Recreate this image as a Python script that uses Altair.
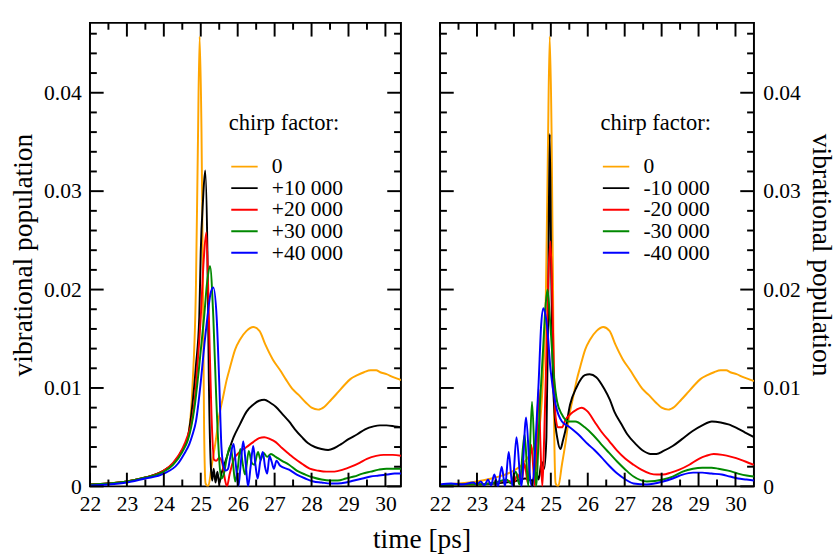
import altair as alt
import pandas as pd

# ---------------- data ----------------
LABELS_POS = ["0", "+10 000", "+20 000", "+30 000", "+40 000"]
LABELS_NEG = ["0", "-10 000", "-20 000", "-30 000", "-40 000"]
COLORS = ["#FFA500", "#000000", "#FF0000", "#008800", "#0000FF"]

X_MAJOR = [22, 23, 24, 25, 26, 27, 28, 29, 30]
X_MINOR = [22.5, 23.5, 24.5, 25.5, 26.5, 27.5, 28.5, 29.5]
Y_MAJOR = [0.0, 0.01, 0.02, 0.03, 0.04]
Y_MINOR = [0.002, 0.004, 0.006, 0.008, 0.012, 0.014, 0.016, 0.018, 0.022, 0.024,
           0.026, 0.028, 0.032, 0.034, 0.036, 0.038, 0.042, 0.044, 0.046]

ORANGE = [(22.0, 0.0002), (22.5, 0.0003), (23.0, 0.0005), (23.5, 0.0009), (24.0, 0.0016),
          (24.25, 0.0023), (24.5, 0.0037), (24.65, 0.0050), (24.78, 0.0105), (24.87, 0.0205),
          (24.92, 0.034), (24.97, 0.0457), (25.02, 0.036), (25.06, 0.02), (25.09, 0.006),
          (25.13, 0.0003), (25.2, 0.0), (25.3, 0.0022), (25.4, 0.0045), (25.5, 0.0072),
          (25.6, 0.009), (25.7, 0.0108), (25.8, 0.0122), (25.93, 0.0139), (26.06, 0.0149),
          (26.24, 0.0158), (26.42, 0.0162), (26.59, 0.0158), (26.75, 0.0144), (26.95, 0.0129),
          (27.15, 0.0118), (27.3, 0.0109), (27.48, 0.0099), (27.65, 0.0093), (27.85, 0.0085),
          (28.0, 0.0080), (28.18, 0.0078), (28.35, 0.0081), (28.53, 0.0088), (28.7, 0.0095),
          (28.89, 0.0103), (29.05, 0.0109), (29.24, 0.0113), (29.42, 0.0116), (29.6, 0.0118),
          (29.75, 0.0118), (29.86, 0.0116), (30.03, 0.0114), (30.21, 0.0111), (30.43, 0.0108),
          (30.5, 0.0107)]

POS_10 = [(22.0, 0.0002), (22.5, 0.0003), (23.0, 0.0005), (23.5, 0.0009), (24.0, 0.0016),
          (24.25, 0.0023), (24.5, 0.0037), (24.65, 0.005), (24.78, 0.0085), (24.87, 0.0123),
          (24.96, 0.0172), (25.0, 0.0239), (25.06, 0.029), (25.12, 0.0321), (25.18, 0.0239),
          (25.22, 0.0106), (25.27, 0.0023), (25.31, 0.0006), (25.35, 0.0018), (25.4, 0.0004),
          (25.45, 0.0015), (25.5, 0.0003), (25.56, 0.0013), (25.62, 0.002), (25.75, 0.0035),
          (25.89, 0.005), (26.06, 0.0063), (26.24, 0.0076), (26.42, 0.0083), (26.58, 0.0087),
          (26.72, 0.0088), (26.88, 0.0085), (27.03, 0.0081), (27.2, 0.0074), (27.39, 0.0066),
          (27.55, 0.0058), (27.74, 0.005), (27.9, 0.0044), (28.09, 0.004), (28.27, 0.0038),
          (28.45, 0.0037), (28.62, 0.0039), (28.8, 0.0043), (29.0, 0.0048), (29.24, 0.0053),
          (29.45, 0.0058), (29.68, 0.0061), (29.85, 0.0062), (30.03, 0.0062), (30.25, 0.0061),
          (30.43, 0.006)]

POS_20 = [(22.0, 0.0002), (22.5, 0.0003), (23.0, 0.0005), (23.5, 0.0009), (24.0, 0.0016),
          (24.25, 0.0024), (24.5, 0.0038), (24.65, 0.0052), (24.74, 0.0063), (24.83, 0.0086),
          (24.91, 0.0123), (25.0, 0.0172), (25.08, 0.023), (25.15, 0.0258), (25.22, 0.0172),
          (25.29, 0.0073), (25.36, 0.0027), (25.42, 0.0026), (25.5, 0.0029), (25.58, 0.0024),
          (25.65, 0.0008), (25.71, 0.0), (25.78, 0.0012), (25.89, 0.0027), (26.06, 0.0035),
          (26.24, 0.004), (26.42, 0.0045), (26.58, 0.0049), (26.72, 0.005), (26.88, 0.0048),
          (27.03, 0.0045), (27.2, 0.0039), (27.39, 0.0033), (27.55, 0.0028), (27.74, 0.0023),
          (27.95, 0.0018), (28.18, 0.0016), (28.4, 0.0015), (28.62, 0.0015), (28.85, 0.0017),
          (29.07, 0.002), (29.3, 0.0024), (29.5, 0.0028), (29.75, 0.0031), (29.95, 0.0032),
          (30.2, 0.0032), (30.43, 0.0031)]

POS_30 = [(22.0, 0.0002), (22.5, 0.0003), (23.0, 0.0005), (23.5, 0.0009), (24.0, 0.0015),
          (24.25, 0.0022), (24.5, 0.0035), (24.65, 0.0047), (24.74, 0.006), (24.83, 0.008),
          (24.96, 0.0123), (25.09, 0.0172), (25.18, 0.021), (25.25, 0.0224), (25.34, 0.0172),
          (25.42, 0.0089), (25.49, 0.0033), (25.55, 0.0008), (25.62, 0.0012), (25.7, 0.0028),
          (25.8, 0.0041), (25.87, 0.0025), (25.93, 0.0005), (26.0, 0.0018), (26.07, 0.0038),
          (26.14, 0.0022), (26.2, 0.0012), (26.3, 0.0036), (26.38, 0.0024), (26.45, 0.0022),
          (26.55, 0.0035), (26.62, 0.0027), (26.7, 0.0034), (26.8, 0.003), (26.9, 0.0033),
          (27.03, 0.003), (27.2, 0.0026), (27.39, 0.0022), (27.6, 0.0016), (27.83, 0.0012),
          (28.05, 0.0009), (28.27, 0.0007), (28.5, 0.0006), (28.71, 0.0006), (28.93, 0.0008),
          (29.15, 0.001), (29.38, 0.0013), (29.6, 0.0015), (29.82, 0.0017), (30.03, 0.0018),
          (30.25, 0.0018), (30.43, 0.0018)]

POS_40 = [(22.0, 0.0001), (22.5, 0.0002), (23.0, 0.0004), (23.5, 0.0008), (24.0, 0.0013),
          (24.38, 0.0023), (24.55, 0.0033), (24.69, 0.0043), (24.78, 0.0053), (24.87, 0.0066),
          (25.0, 0.0106), (25.1, 0.0145), (25.18, 0.0172), (25.26, 0.0195), (25.34, 0.0202),
          (25.43, 0.0172), (25.5, 0.0106), (25.56, 0.004), (25.62, 0.002), (25.68, 0.0016),
          (25.74, 0.0018), (25.8, 0.003), (25.89, 0.0043), (25.95, 0.0022), (26.02, 0.0),
          (26.08, 0.0022), (26.15, 0.0046), (26.22, 0.0022), (26.28, 0.0), (26.35, 0.002),
          (26.42, 0.0041), (26.48, 0.0022), (26.54, 0.0008), (26.61, 0.0025), (26.68, 0.0035),
          (26.74, 0.002), (26.8, 0.0013), (26.86, 0.0031), (26.92, 0.0025), (26.98, 0.0018),
          (27.05, 0.0026), (27.15, 0.0021), (27.39, 0.0017), (27.6, 0.0012), (27.83, 0.0008),
          (28.05, 0.0005), (28.27, 0.0004), (28.5, 0.0003), (28.71, 0.0003), (28.93, 0.0004),
          (29.15, 0.0006), (29.38, 0.0008), (29.6, 0.001), (29.82, 0.0011), (30.03, 0.0012),
          (30.25, 0.0013), (30.43, 0.0013)]

NEG_10 = [(22.0, 0.0001), (22.5, 0.0002), (23.0, 0.0002), (23.5, 0.0003), (24.0, 0.0005),
          (24.3, 0.0008), (24.5, 0.0006), (24.6, 0.0014), (24.67, 0.0007), (24.75, 0.0025),
          (24.82, 0.0018), (24.88, 0.005), (24.92, 0.015), (24.97, 0.0358), (25.01, 0.022),
          (25.05, 0.012), (25.1, 0.0075), (25.18, 0.0048), (25.26, 0.0038), (25.33, 0.0047),
          (25.39, 0.0056), (25.52, 0.0083), (25.7, 0.0101), (25.92, 0.0113), (26.05, 0.0114),
          (26.23, 0.0111), (26.45, 0.0099), (26.6, 0.0088), (26.72, 0.0076), (26.9, 0.0064),
          (27.07, 0.0053), (27.3, 0.0043), (27.51, 0.0036), (27.7, 0.0033), (27.86, 0.0033),
          (28.05, 0.0036), (28.3, 0.0041), (28.55, 0.0048), (28.83, 0.0056), (29.1, 0.0062),
          (29.36, 0.0066), (29.6, 0.0065), (29.81, 0.0063), (30.05, 0.0059), (30.25, 0.0055),
          (30.5, 0.005)]

NEG_20 = [(22.0, 0.0001), (22.5, 0.0002), (23.0, 0.0002), (23.5, 0.0004), (23.8, 0.0006),
          (24.0, 0.0004), (24.1, 0.0012), (24.2, 0.0004), (24.29, 0.0023), (24.38, 0.0003),
          (24.47, 0.0042), (24.57, 0.0), (24.67, 0.0099), (24.72, 0.004), (24.77, 0.0),
          (24.82, 0.005), (24.87, 0.012), (24.93, 0.021), (24.99, 0.0249), (25.04, 0.019),
          (25.08, 0.0123), (25.13, 0.007), (25.2, 0.006), (25.3, 0.006), (25.4, 0.0068),
          (25.52, 0.0073), (25.7, 0.0078), (25.83, 0.008), (26.0, 0.0076), (26.18, 0.0066),
          (26.36, 0.0056), (26.58, 0.0046), (26.8, 0.0036), (27.02, 0.0028), (27.24, 0.0022),
          (27.45, 0.0017), (27.69, 0.0013), (27.87, 0.0012), (28.04, 0.0012), (28.25, 0.0014),
          (28.48, 0.0017), (28.75, 0.0022), (29.01, 0.0028), (29.2, 0.0031), (29.41, 0.0033),
          (29.65, 0.0032), (29.89, 0.003), (30.15, 0.0027), (30.42, 0.0023), (30.5, 0.0022)]

NEG_30 = [(22.0, 0.0001), (22.5, 0.0002), (23.0, 0.0002), (23.5, 0.0004), (23.8, 0.0007),
          (23.92, 0.0003), (24.05, 0.0015), (24.15, 0.0002), (24.29, 0.0053), (24.39, 0.0),
          (24.49, 0.0086), (24.6, 0.0), (24.7, 0.008), (24.79, 0.0139), (24.86, 0.0185),
          (24.91, 0.02), (24.99, 0.0162), (25.08, 0.0113), (25.17, 0.0086), (25.3, 0.0073),
          (25.48, 0.0066), (25.66, 0.0066), (25.92, 0.006), (26.15, 0.0052), (26.36, 0.0043),
          (26.58, 0.0034), (26.8, 0.0025), (27.02, 0.0017), (27.24, 0.001), (27.6, 0.0005),
          (28.04, 0.0007), (28.3, 0.001), (28.57, 0.0015), (28.85, 0.0018), (29.1, 0.0019),
          (29.35, 0.0019), (29.54, 0.0018), (29.8, 0.0016), (30.07, 0.0013), (30.3, 0.0011),
          (30.5, 0.001)]

NEG_40 = [(22.0, 0.0002), (22.3, 0.0003), (22.6, 0.0002), (22.9, 0.0004), (23.0, 0.0002),
          (23.1, 0.0005), (23.2, 0.0001), (23.3, 0.0007), (23.38, 0.0001), (23.47, 0.0012),
          (23.57, 0.0), (23.67, 0.002), (23.76, 0.0), (23.86, 0.0035), (23.96, 0.0),
          (24.07, 0.005), (24.2, 0.0), (24.33, 0.007), (24.45, 0.0005), (24.5, 0.0),
          (24.58, 0.004), (24.67, 0.0106), (24.74, 0.0165), (24.8, 0.0181), (24.85, 0.0175),
          (24.9, 0.0162), (24.99, 0.0119), (25.13, 0.0083), (25.3, 0.0066), (25.48, 0.0061),
          (25.74, 0.0053), (26.0, 0.0043), (26.18, 0.0037), (26.36, 0.003), (26.58, 0.0021),
          (26.8, 0.0013), (27.02, 0.0007), (27.24, 0.0003), (27.6, 0.0002), (28.04, 0.0005),
          (28.3, 0.0008), (28.57, 0.0012), (28.85, 0.0014), (29.1, 0.0014), (29.35, 0.0013),
          (29.63, 0.0012), (29.85, 0.001), (30.07, 0.0008), (30.3, 0.0007), (30.5, 0.0006)]

FONT = "Liberation Serif"
Y_MAX = 0.0471
H = 474


def frame(labels, series):
    rows = []
    for order, (lab, pts) in enumerate(zip(labels, series)):
        for t, v in pts:
            rows.append({"series": lab, "k": order, "t": t, "v": v})
    return pd.DataFrame(rows)


def panel(labels, series, x_max, width, y_orient, legend_x, legend_y):
    xs = alt.Scale(domain=[22, x_max], nice=False, zero=False)
    ys = alt.Scale(domain=[0, Y_MAX], nice=False, zero=False)
    x_axis = alt.Axis(values=X_MAJOR, format="d", title=None, ticks=False, domain=False,
                      grid=False, labelPadding=8, labelFlush=False, labelOverlap=False)
    y_axis = alt.Axis(values=Y_MAJOR, format=".2~f", title="vibrational population",
                      orient=y_orient, ticks=False, domain=False, grid=False,
                      labelPadding=9, labelFlush=False, labelOverlap=False, titlePadding=6)
    X = alt.X("t:Q", scale=xs, axis=x_axis)
    Y = alt.Y("v:Q", scale=ys, axis=y_axis)

    lines = alt.Chart(frame(labels, series)).mark_line(
        strokeWidth=2, clip=True, interpolate="monotone"
    ).encode(
        x=X, y=Y,
        color=alt.Color("series:N",
                        scale=alt.Scale(domain=labels, range=COLORS),
                        legend=alt.Legend(title="chirp factor:", orient="none",
                                          legendX=legend_x, legendY=legend_y,
                                          symbolType="M-1.35,0H1.35", symbolStrokeWidth=2,
                                          symbolSize=400, titlePadding=22, clipHeight=20,
                                          rowPadding=0, labelOffset=17, symbolOffset=5)),
        order=alt.Order("k:Q"),
    )

    xmaj = pd.DataFrame({"t": X_MAJOR})
    xmin = pd.DataFrame({"t": X_MINOR})
    ymaj = pd.DataFrame({"v": Y_MAJOR})
    ymin = pd.DataFrame({"v": Y_MINOR})
    rule = dict(color="black", strokeWidth=2)
    layers = [lines]
    for d, ln in ((xmaj, 14), (xmin, 7)):
        layers.append(alt.Chart(d).mark_rule(**rule).encode(x=X, y=alt.value(H), y2=alt.value(H - ln)))
        layers.append(alt.Chart(d).mark_rule(**rule).encode(x=X, y=alt.value(0), y2=alt.value(ln)))
    for d, ln in ((ymaj, 14), (ymin, 7)):
        layers.append(alt.Chart(d).mark_rule(**rule).encode(y=Y, x=alt.value(0), x2=alt.value(ln)))
        layers.append(alt.Chart(d).mark_rule(**rule).encode(y=Y, x=alt.value(width), x2=alt.value(width - ln)))
    return alt.layer(*layers).properties(width=width, height=H)


left = panel(LABELS_POS, [ORANGE, POS_10, POS_20, POS_30, POS_40], 30.42, 318, "left", 142, 92)
right = panel(LABELS_NEG, [ORANGE, NEG_10, NEG_20, NEG_30, NEG_40], 30.5, 321, "right", 164, 92)

chart = alt.hconcat(left, right, spacing=26).resolve_scale(
    color="independent"
).resolve_legend(color="independent").properties(
    title=alt.TitleParams("time [ps]", orient="bottom", anchor="middle", offset=11),
    padding={"left": 9, "top": 15, "right": 5, "bottom": 5},
).configure(font=FONT).configure_view(
    stroke="black", strokeWidth=2
).configure_axis(
    labelFont=FONT, labelFontSize=22, labelColor="black",
    titleFont=FONT, titleFontSize=28, titleFontWeight="normal", titleColor="black",
).configure_legend(
    labelFont=FONT, labelFontSize=22, labelColor="black",
    titleFont=FONT, titleFontSize=23, titleFontWeight="normal", titleColor="black",
).configure_title(
    font=FONT, fontSize=28, fontWeight="normal", color="black",
)

chart.save("out.html", embed_options={"renderer": "svg", "actions": False})
